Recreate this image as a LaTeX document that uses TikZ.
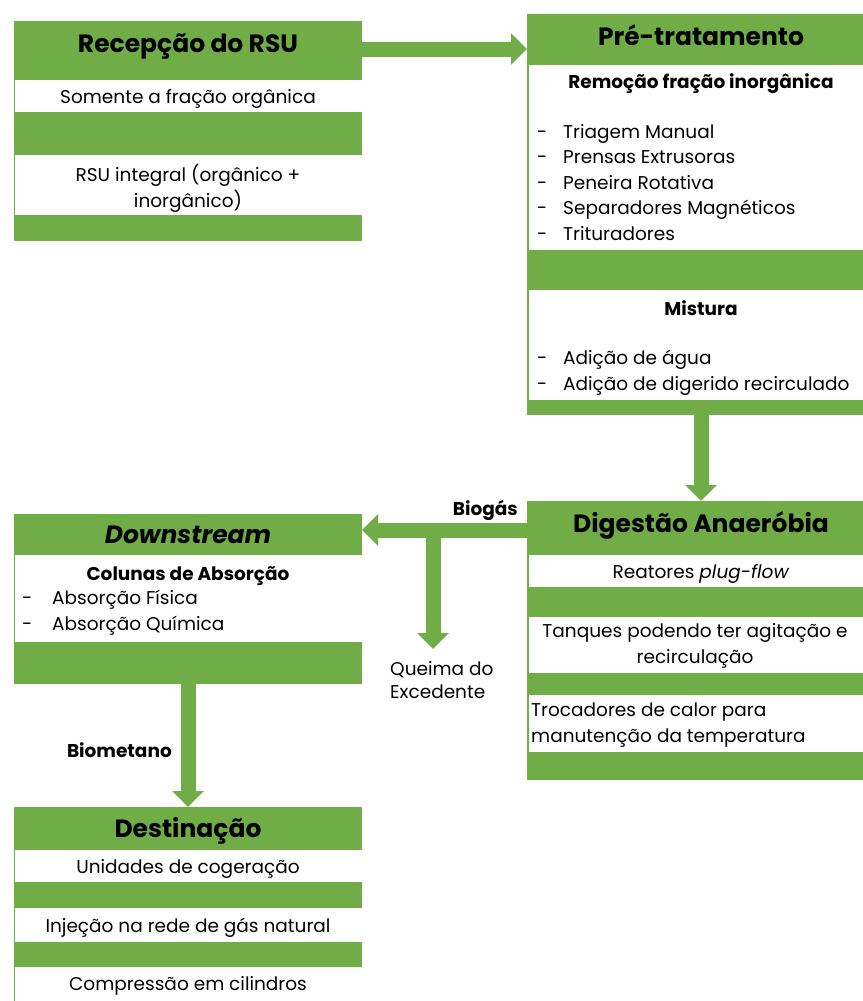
\documentclass[tikz,border=0pt]{standalone}
\usepackage{fontspec}
\setmainfont{Poppins}
\usetikzlibrary{arrows.meta}
\definecolor{verde}{RGB}{112,173,71}
\newcommand{\traco}[1][26pt]{\makebox[#1][l]{-}}
\begin{document}
\begin{tikzpicture}[x=1pt,y=-1pt,
    bloco/.style={fill=verde,inner sep=0pt,outer sep=0pt,anchor=north west,minimum width=348pt},
    caixa/.style={fill=white,inner sep=0pt,outer sep=0pt,anchor=north west,minimum width=347pt},
    titulo/.style={inner sep=0pt,anchor=base,font=\fontsize{25}{29}\selectfont\bfseries},
    texto/.style={inner sep=0pt,anchor=base west,align=left,font=\fontsize{18.5}{25.5}\selectfont},
    rotulo/.style={inner sep=0pt,font=\fontsize{18.5}{22}\selectfont\bfseries},
    seta/.style={verde,line width=15pt,-{Triangle[width=31pt,length=16pt]}}]
\useasboundingbox (0,0) rectangle (862,1001);

% Recepcao do RSU
\node[bloco,minimum height=220pt] (rec) at (14,21) {};
\node[titulo] (rectit) at (188,52) {Recepção do RSU};
\node[caixa,minimum height=32pt] (rec1) at (15,80) {};
\node[texto,anchor=base] (rec1t) at (188,103) {Somente a fração orgânica};
\node[caixa,minimum height=60pt] (rec2) at (15,155) {};
\node[texto,anchor=base,align=center] (rec2t) at (188,207) {RSU integral (orgânico +\\inorgânico)};

% Pre-tratamento
\node[bloco,minimum height=401pt] (pre) at (527,14) {};
\node[titulo] (pretit) at (701,45) {Pré-tratamento};
\node[caixa,minimum height=185pt] (pre1) at (529,65) {};
\node[rotulo,anchor=base] (pre1t) at (701,88) {Remoção fração inorgânica};
\node[texto] (pre1l) at (537,240) {\traco Triagem Manual\\\traco Prensas Extrusoras\\\traco Peneira Rotativa\\\traco Separadores Magnéticos\\\traco Trituradores};
\node[caixa,minimum height=110pt] (pre2) at (529,290) {};
\node[rotulo,anchor=base] (pre2t) at (701,315) {Mistura};
\node[texto] (pre2l) at (537,390) {\traco Adição de água\\\traco Adição de digerido recirculado};

% Digestao anaerobia
\node[bloco,minimum height=279pt] (dig) at (527,501) {};
\node[titulo] (digtit) at (701,532) {Digestão Anaeróbia};
\node[caixa,minimum height=32pt] (dig1) at (529,555) {};
\node[texto,anchor=base] (dig1t) at (701,578) {Reatores \textit{plug-flow}};
\node[caixa,minimum height=56pt] (dig2) at (529,617) {};
\node[texto,anchor=base,align=center] (dig2t) at (695,663) {Tanques podendo ter agitação e\\recirculação};
\node[caixa,minimum height=57pt] (dig3) at (529,695) {};
\node[texto] (dig3t) at (531,742) {Trocadores de calor para\\manutenção da temperatura};

% Downstream
\node[bloco,minimum height=170pt] (dow) at (14,514) {};
\node[titulo] (dowtit) at (188,543) {\textit{Downstream}};
\node[caixa,minimum height=87pt] (dow1) at (15,555) {};
\node[rotulo,anchor=base] (dow1t) at (188,580) {Colunas de Absorção};
\node[texto] (dow1l) at (22,630) {\traco[30pt]Absorção Física\\\traco[30pt]Absorção Química};

% Destinacao
\node[bloco,minimum height=194pt] (des) at (14,807) {};
\node[titulo] (destit) at (188,837) {Destinação};
\node[caixa,minimum height=32pt] (des1) at (15,850) {};
\node[texto,anchor=base] (des1t) at (188,873) {Unidades de cogeração};
\node[caixa,minimum height=34pt] (des2) at (15,908) {};
\node[texto,anchor=base] (des2t) at (188,932) {Injeção na rede de gás natural};
\node[caixa,minimum height=34pt] (des3) at (15,967) {};
\node[texto,anchor=base] (des3t) at (188,990) {Compressão em cilindros};

% rotulos
\node[texto,font=\fontsize{18.5}{23}\selectfont] (que) at (390,698) {Queima do\\Excedente};
\node[rotulo,anchor=base east] (lbio) at (518,515) {Biogás};
\node[rotulo,anchor=base east] (lmet) at (172,757) {Biometano};

% setas
\draw[seta] (rec.east |- 0,49) -- (pre.west |- 0,49);
\draw[seta] (pre.south) -- (dig.north);
\draw[seta] (dig.west |- 0,530) -- (dow.east |- 0,530);
\coordinate (ramo) at (433,530);
\draw[seta] (ramo) -- (ramo |- 0,649);
\draw[seta] (dow.south) -- (des.north);
\end{tikzpicture}
\end{document}
